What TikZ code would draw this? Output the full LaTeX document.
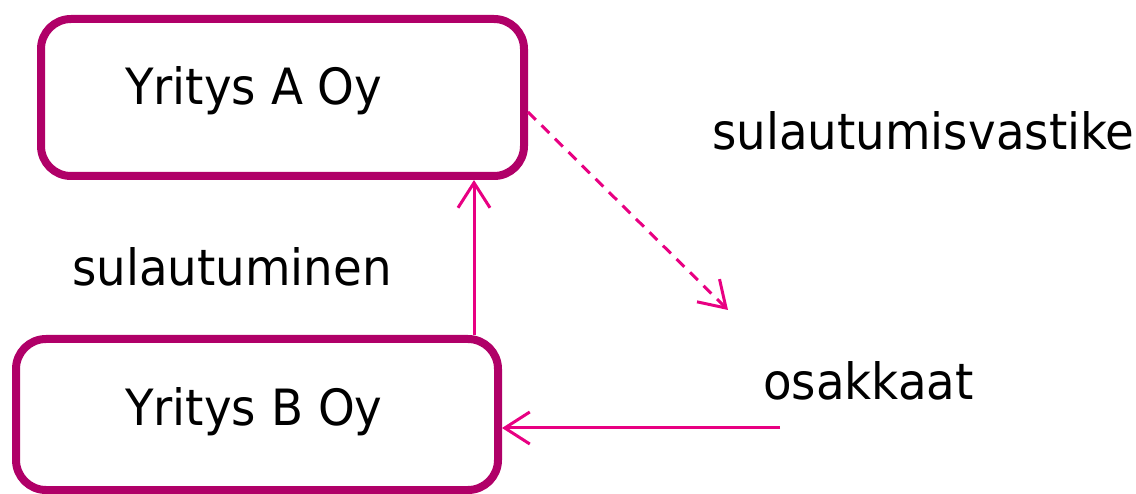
\documentclass[tikz,border=0pt]{standalone}
\usepackage{fontspec}
\setmainfont[FakeStretch=0.935]{DejaVu Sans}
\usetikzlibrary{arrows.meta}
\definecolor{boxc}{RGB}{176,0,104}
\definecolor{arrc}{RGB}{232,0,130}
\tikzset{
  box/.style={draw=boxc, line width=8pt, rounded corners=30pt, fill=white},
  lbl/.style={anchor=base west, inner sep=0pt, font=\fontsize{50}{60}\selectfont},
  arr/.style={draw=arrc, line width=3pt, -{Straight Barb[length=25pt,width=32pt,line width=3pt]}},
  darr/.style={arr, dash pattern=on 11pt off 8pt}
}
\begin{document}
\begin{tikzpicture}[x=1pt,y=-1pt]
\useasboundingbox (0,0) rectangle (1136,494);
\node[box, minimum width=483pt, minimum height=157pt] (boxA) at (282.5,97.5) {};
\node[box, minimum width=482pt, minimum height=151pt] (boxB) at (257,414.5) {};
\node[lbl] (tA) at (125,105) {Yritys A Oy};
\node[lbl] (tB) at (125,425) {Yritys B Oy};
\node[lbl] (tS) at (72,286) {sulautuminen};
\node[lbl] (tV) at (712,150) {sulautumisvastike};
\node[lbl] (tO) at (763,400) {osakkaat};
\coordinate (u) at (474,0);
\coordinate (ds) at (527,112);
\coordinate (de) at (728,310);
\coordinate (ls) at (780,428);
\draw[arr] (u |- boxB.north) -- (u |- boxA.south);
\draw[darr] (boxA.east |- ds) -- (de);
\draw[arr] (ls) -- (ls -| boxB.east);
\end{tikzpicture}
\end{document}
